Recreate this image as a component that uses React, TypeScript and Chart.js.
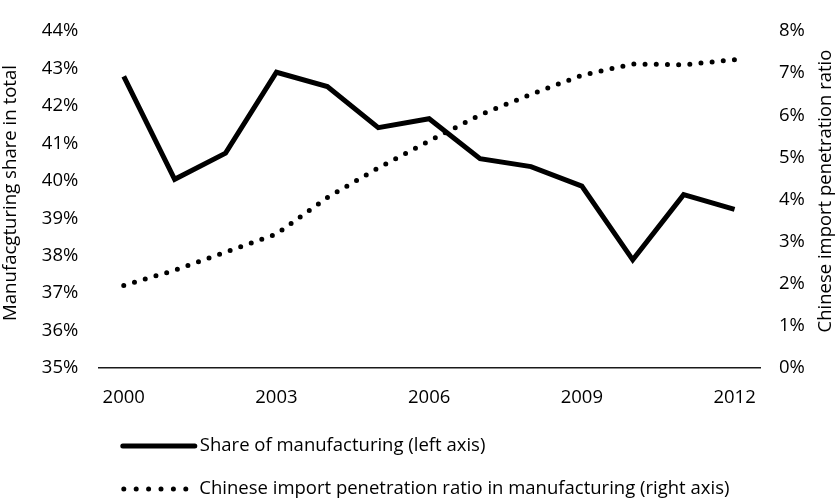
import React, { useEffect, useRef } from "react";
import { Chart, registerables } from "chart.js";

Chart.register(...registerables);

const years = ["2000", "2001", "2002", "2003", "2004", "2005", "2006", "2007", "2008", "2009", "2010", "2011", "2012"];
const manufacturingShare = [42.79, 40.04, 40.74, 42.9, 42.52, 41.42, 41.66, 40.59, 40.38, 39.86, 37.89, 39.63, 39.24];
const importPenetration = [1.96, 2.32, 2.75, 3.18, 4.05, 4.75, 5.39, 6.01, 6.5, 6.95, 7.22, 7.2, 7.32];
const leftMin = 35;
const leftMax = 44;
const rightMin = 0;
const rightMax = 8;
const shownYearEvery = 3;
const legendLabels = [
  "Share of manufacturing (left axis)",
  "Chinese import penetration ratio in manufacturing (right axis)",
];
const leftTitle = "Manufacgturing share in total";
const rightTitle = "Chinese import penetration ratio";

const FONT = "'Open Sans', 'Noto Sans', sans-serif";

function fitFont(ctx: CanvasRenderingContext2D, text: string, target: number) {
  ctx.font = `17px ${FONT}`;
  const w = ctx.measureText(text).width;
  const size = (17 * target) / w;
  ctx.font = `${size.toFixed(2)}px ${FONT}`;
}

const overlayPlugin = {
  id: "overlay",
  afterDraw(chart: any) {
    const ctx = chart.ctx as CanvasRenderingContext2D;
    const a = chart.chartArea;
    ctx.save();
    ctx.fillStyle = "#000";
    ctx.textAlign = "center";
    ctx.textBaseline = "middle";
    // left title
    ctx.save();
    fitFont(ctx, leftTitle, 256);
    ctx.translate(11, 193);
    ctx.rotate(-Math.PI / 2);
    ctx.fillText(leftTitle, 0, 0);
    ctx.restore();
    // right title
    ctx.save();
    fitFont(ctx, rightTitle, 283);
    ctx.translate(826, 191);
    ctx.rotate(-Math.PI / 2);
    ctx.fillText(rightTitle, 0, 0);
    ctx.restore();

    // legend
    const row1 = a.bottom + 78;
    const row2 = a.bottom + 121;
    const sx = a.left + 24.5;
    ctx.strokeStyle = "#000";
    ctx.lineCap = "round";
    ctx.lineWidth = 5;
    ctx.beginPath();
    ctx.moveTo(sx, row1);
    ctx.lineTo(sx + 72, row1);
    ctx.stroke();
    ctx.setLineDash([0, 12.4]);
    ctx.lineWidth = 5;
    ctx.beginPath();
    ctx.moveTo(sx + 1, row2);
    ctx.lineTo(sx + 63.5, row2);
    ctx.stroke();
    ctx.setLineDash([]);
    ctx.font = `18.5px ${FONT}`;
    ctx.textAlign = "left";
    ctx.fillText(legendLabels[0], a.left + 101.5, row1);
    ctx.fillText(legendLabels[1], a.left + 101, row2);
    ctx.restore();
  },
};

export default function App() {
  const ref = useRef<HTMLCanvasElement | null>(null);
  useEffect(() => {
    document.body.style.margin = "0";
    const tickFont = { family: FONT, size: 18.5 };
    const chart = new Chart(ref.current as HTMLCanvasElement, {
      type: "line",
      data: {
        labels: years,
        datasets: [
          {
            label: legendLabels[0],
            data: manufacturingShare,
            yAxisID: "yL",
            borderColor: "#000",
            borderWidth: 5,
            pointRadius: 0,
            tension: 0,
            borderJoinStyle: "miter",
            borderCapStyle: "butt",
            fill: false,
          },
          {
            label: legendLabels[1],
            data: importPenetration,
            yAxisID: "yR",
            borderColor: "#000",
            borderWidth: 5,
            borderDash: [0, 11.2],
            borderCapStyle: "round",
            pointRadius: 0,
            tension: 0,
            fill: false,
          },
        ],
      },
      options: {
        animation: false,
        responsive: false,
        maintainAspectRatio: false,
        layout: { padding: { top: 16, left: 0, right: 0, bottom: 0 } },
        plugins: { legend: { display: false }, tooltip: { enabled: false } },
        scales: {
          x: {
            offset: true,
            grid: { display: false, drawTicks: false },
            border: { display: true, color: "#1a1a1a", width: 1.5 },
            ticks: {
              autoSkip: false,
              maxRotation: 0,
              minRotation: 0,
              padding: 19,
              color: "#000",
              font: tickFont,
              callback: (_v: any, i: number) => (i % shownYearEvery === 0 ? years[i] : ""),
            },
            afterFit: (s: any) => {
              s.height = 134;
            },
          },
          yL: {
            position: "left",
            min: leftMin,
            max: leftMax,
            grid: { display: false, drawTicks: false },
            border: { display: false },
            ticks: {
              stepSize: 1,
              padding: 20,
              color: "#000",
              font: tickFont,
              callback: (v: any) => `${v}%`,
            },
            afterFit: (s: any) => {
              s.width = 98.3;
            },
          },
          yR: {
            position: "right",
            min: rightMin,
            max: rightMax,
            grid: { display: false, drawTicks: false },
            border: { display: false },
            ticks: {
              stepSize: 1,
              padding: 19,
              color: "#000",
              font: tickFont,
              callback: (v: any) => `${v}%`,
            },
            afterFit: (s: any) => {
              s.width = 77;
            },
          },
        },
      } as any,
      plugins: [overlayPlugin],
    });
    return () => chart.destroy();
  }, []);
  return (
    <div style={{ width: 837, height: 502, position: "relative" }}>
      <canvas ref={ref} width={837} height={502} style={{ display: "block", width: 837, height: 502 }} />
    </div>
  );
}
